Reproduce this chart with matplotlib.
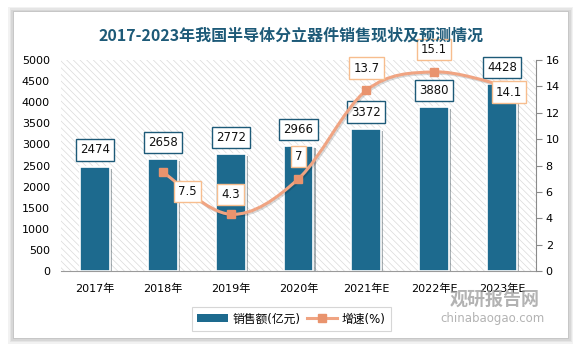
import matplotlib
matplotlib.use("Agg")
import matplotlib.pyplot as plt
import matplotlib.patheffects as pe
from matplotlib.path import Path
from matplotlib.patches import PathPatch, Rectangle, Patch
from matplotlib.lines import Line2D

plt.rcParams['font.family'] = ['DejaVu Sans', 'Noto Sans CJK SC']
plt.rcParams['hatch.linewidth'] = 0.5
plt.rcParams['hatch.color'] = '#dadada'

years = ['2017年', '2018年', '2019年', '2020年', '2021年E', '2022年E', '2023年E']
sales = [2474, 2658, 2772, 2966, 3372, 3880, 4428]
growth_years = [1, 2, 3, 4, 5, 6]
growth = [7.5, 4.3, 7, 13.7, 15.1, 14.1]

bar_color = '#1d6a8e'
line_color = '#f0a482'
marker_color = '#e9936d'
label_edge_orange = '#f7bd8e'
title_color = '#1d5a78'

fig = plt.figure(figsize=(5.83, 3.52), dpi=100)
fig.patch.set_facecolor('white')

# card with soft shadow
for i, a in enumerate([0.05, 0.05, 0.06, 0.07]):
    d = (4 - i) * 0.004
    fig.patches.append(Rectangle((0.024 - d * 0.6, 0.04 - d), 0.95 + d * 1.2, 0.925 + d * 2,
                                 transform=fig.transFigure, facecolor='#000000', alpha=a,
                                 edgecolor='none', zorder=-3))
fig.patches.append(Rectangle((0.024, 0.04), 0.95, 0.925, transform=fig.transFigure,
                             facecolor='white', edgecolor='none', zorder=-2))

ax = fig.add_axes([0.1046, 0.2301, 0.8148, 0.5994])
ax.set_facecolor('none')
ax.add_patch(Rectangle((0, 0), 1, 1, transform=ax.transAxes, facecolor='white',
                       edgecolor='#dadada', linewidth=0, hatch='\\\\\\\\\\', zorder=0))

x = list(range(len(years)))
bars = ax.bar(x, sales, width=0.44, color=bar_color, edgecolor='white', linewidth=1.2, zorder=2)
for b in bars:
    b.set_path_effects([pe.SimplePatchShadow(offset=(1.5, -1.5), alpha=0.35), pe.Normal()])

ax.set_xlim(-0.5, len(years) - 0.5)
ax.set_ylim(0, 5000)
ax.set_yticks(range(0, 5001, 500))
ax.set_xticks(x)
ax.set_xticklabels(years, fontsize=8)
ax.tick_params(axis='y', length=0, labelsize=8, pad=8)
ax.tick_params(axis='x', length=0, labelsize=8, pad=9)
for s in ['top', 'right', 'left']:
    ax.spines[s].set_visible(False)
ax.spines['bottom'].set_color('#9a9a9a')
ax.spines['bottom'].set_zorder(5)

for xi, v in zip(x, sales):
    ax.annotate(str(v), (xi, v), xytext=(0, 12), textcoords='offset points',
                ha='center', va='center', fontsize=8.5, color='#111111', zorder=6,
                bbox=dict(boxstyle='square,pad=0.35', fc='white', ec=title_color, lw=1))

ax2 = ax.twinx()
ax2.set_ylim(0, 16)
ax2.set_yticks(range(0, 17, 2))
ax2.tick_params(axis='y', length=4, color='#8a8a8a', labelsize=8, pad=3)
for s in ['top', 'left', 'bottom']:
    ax2.spines[s].set_visible(False)
ax2.spines['right'].set_color('#8a8a8a')

# smooth curve (Catmull-Rom as cubic Bezier)
pts = list(zip(growth_years, growth))
verts = [pts[0]]
codes = [Path.MOVETO]
t = 1 / 6
for i in range(len(pts) - 1):
    p0 = pts[i - 1] if i > 0 else pts[i]
    p1 = pts[i]
    p2 = pts[i + 1]
    p3 = pts[i + 2] if i + 2 < len(pts) else pts[i + 1]
    c1 = (p1[0] + (p2[0] - p0[0]) * t, p1[1] + (p2[1] - p0[1]) * t)
    c2 = (p2[0] - (p3[0] - p1[0]) * t, p2[1] - (p3[1] - p1[1]) * t)
    verts += [c1, c2, p2]
    codes += [Path.CURVE4] * 3
ax2.add_patch(PathPatch(Path(verts, codes), fc='none', ec=line_color, lw=2.2, zorder=3,
                        path_effects=[pe.SimpleLineShadow(offset=(1, -1), alpha=0.15), pe.Normal()]))
ax2.plot(growth_years, growth, 's', color=marker_color, markersize=6, zorder=4)

offsets = [(18, -14), (0, 14), (0, 16), (0, 16), (0, 16), (5, -5)]
for xi, v, off in zip(growth_years, growth, offsets):
    ax2.annotate(f'{v:g}', (xi, v), xytext=off, textcoords='offset points',
                 ha='center', va='center', fontsize=8.5, color='#111111', zorder=7,
                 bbox=dict(boxstyle='square,pad=0.35', fc='white', ec=label_edge_orange, lw=1))

fig.text(0.5, 0.898, '2017-2023年我国半导体分立器件销售现状及预测情况', ha='center', va='center',
         fontsize=11.5, fontweight='bold', color=title_color,
         family=['Noto Sans CJK SC', 'DejaVu Sans'])

handles = [Patch(facecolor=bar_color, edgecolor='none', label='销售额(亿元)'),
           Line2D([0], [0], color=line_color, lw=2.2, marker='s', markersize=6,
                  markerfacecolor=marker_color, markeredgecolor=marker_color, label='增速(%)')]
leg = fig.legend(handles=handles, loc='center', bbox_to_anchor=(0.5, 0.094), ncol=2,
                 fontsize=8.5, frameon=True, fancybox=False, edgecolor='#cccccc',
                 handlelength=2.6, handleheight=0.7, columnspacing=0.5, handletextpad=0.4,
                 borderpad=0.45)
leg.get_frame().set_linewidth(0.8)

fig.text(0.848, 0.15, '观研报告网', ha='center', va='center', fontsize=13, fontweight='bold',
         color='#9a9a9a', alpha=0.75, family=['Noto Sans CJK SC'])
fig.text(0.844, 0.094, 'chinabaogao.com', ha='center', va='center', fontsize=8.5,
         color='#9a9a9a', alpha=0.75)

fig.savefig('out.png', dpi=100, facecolor=fig.get_facecolor())
